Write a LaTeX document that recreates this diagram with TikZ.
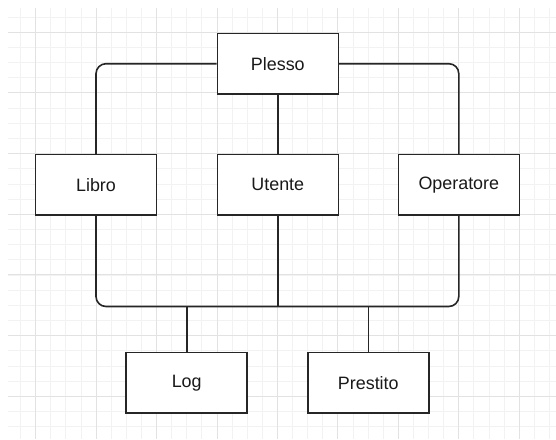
\documentclass[tikz,border=0pt]{standalone}
\usepackage{fontspec}
\setmainfont{Liberation Sans}
\definecolor{gridminor}{RGB}{242,242,242}
\definecolor{gridmajor}{RGB}{226,226,226}
\definecolor{ink}{RGB}{38,38,38}
\begin{document}
\begin{tikzpicture}[x=1pt,y=-1pt,
  box/.style={draw=ink,line width=1.6pt,fill=white,minimum width=121pt,minimum height=60.7pt,inner sep=0pt,
    font=\fontsize{17.9}{20}\selectfont,text=black!90},
  conn/.style={draw=ink,line width=1.6pt,rounded corners=10pt}]
\useasboundingbox (0,0) rectangle (556,439);
% grid
\begin{scope}
\clip (8,8) rectangle (556,439);
\foreach \k in {-1,...,35} {
  \pgfmathsetmacro{\gx}{35.7+15.11*\k}
  \draw[gridminor,line width=1pt] (\gx,8) -- (\gx,439);
}
\foreach \k in {-1,...,28} {
  \pgfmathsetmacro{\gy}{32.3+15.17*\k}
  \draw[gridminor,line width=1pt] (8,\gy) -- (556,\gy);
}
\foreach \k in {0,...,8} {
  \pgfmathsetmacro{\gx}{35.7+60.45*\k}
  \draw[gridmajor,line width=1pt] (\gx,8) -- (\gx,439);
}
\foreach \k in {0,...,6} {
  \pgfmathsetmacro{\gy}{32.3+60.67*\k}
  \draw[gridmajor,line width=1pt] (8,\gy) -- (556,\gy);
}
\end{scope}
% nodes
\node[box] (plesso) at (277.8,63.7) {Plesso};
\node[box] (libro) at (96,184.9) {Libro};
\node[box] (utente) at (277.8,184.9) {Utente};
\node[box] (oper) at (458.8,184.9) {Operatore};
\node[box] (log) at (186.7,382.7) {Log};
\node[box] (prestito) at (368.3,382.7) {Prestito};
\coordinate (bus) at (0,306.5);
% connectors
\draw[conn] (plesso.west) -| (libro.north);
\draw[conn] (plesso.east) -| (oper.north);
\draw[conn] (plesso.south) -- (utente.north);
\draw[conn] (libro.south) |- (bus -| oper.south) -- (oper.south);
\draw[conn] (utente.south) -- (utente.south |- bus);
\draw[conn] (log.north) -- (log.north |- bus);
\draw[conn] (prestito.north) -- (prestito.north |- bus);
\end{tikzpicture}
\end{document}
